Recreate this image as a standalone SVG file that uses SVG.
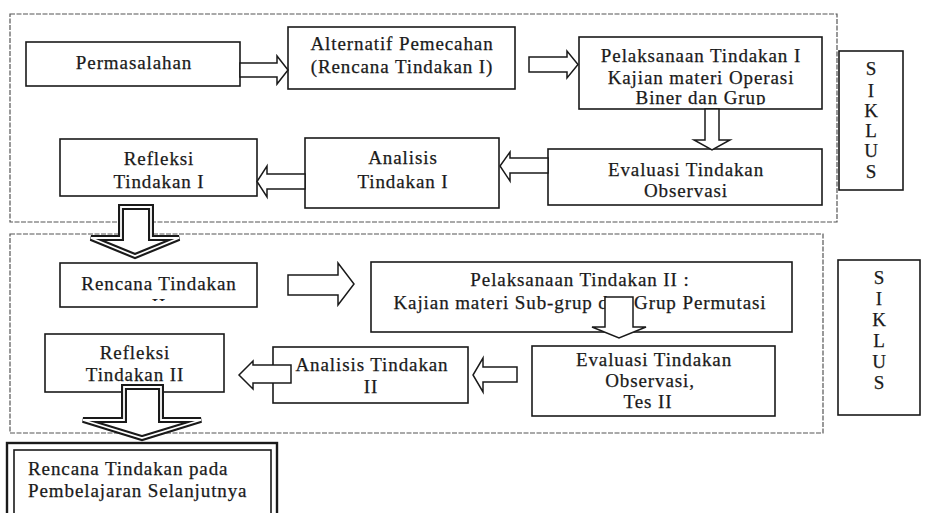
<svg xmlns="http://www.w3.org/2000/svg" width="933" height="513" viewBox="0 0 933 513">
<defs>
<style>
.box{fill:#fff;stroke:#1a1a1a;stroke-width:1.6}
.frame{fill:none;stroke:#555;stroke-width:1.2;stroke-dasharray:5 1.5}
.t{font-family:"Liberation Serif","Times New Roman",serif;font-size:19px;fill:#1a1a1a;stroke:#1a1a1a;stroke-width:0.25;letter-spacing:0.9px;text-anchor:middle}
.s{font-family:"Liberation Serif","Times New Roman",serif;font-size:19px;fill:#1a1a1a;stroke:#1a1a1a;stroke-width:0.25;text-anchor:middle}
.l{text-anchor:start}
.arr{fill:#fff;stroke:#1a1a1a;stroke-width:1.5}
.big{fill:#fff;stroke:#1a1a1a;stroke-width:6;stroke-linejoin:miter}
.bigin{fill:none;stroke:#fff;stroke-width:1.8;stroke-linejoin:miter}
</style>
<clipPath id="cpGrup"><rect x="579" y="37" width="243" height="68"/></clipPath>
<clipPath id="cpR2"><rect x="60" y="263" width="197" height="38"/></clipPath>
</defs>
<rect width="933" height="513" fill="#fff"/>
<g id="frames">
<rect class="frame" x="10" y="14" width="827" height="208"/>
<rect class="frame" x="10" y="234" width="813" height="199"/>
</g>
<g id="permasalahan"><rect class="box" x="26" y="42" width="214" height="44"/><text class="t" x="134" y="69">Permasalahan</text></g>
<g id="alternatif"><rect class="box" x="288" y="27" width="227" height="62"/><text class="t" x="402" y="50">Alternatif Pemecahan</text><text class="t" x="402" y="73">(Rencana Tindakan I)</text></g>
<g id="pelaksanaan1"><rect class="box" x="579" y="37" width="243" height="72"/><text class="t" x="701" y="62">Pelaksanaan Tindakan I</text><text class="t" x="701" y="84">Kajian materi Operasi</text><text class="t" x="701" y="104" clip-path="url(#cpGrup)">Biner dan Grup</text></g>
<g id="evaluasi1"><rect class="box" x="548" y="149" width="274" height="56"/><text class="t" x="686" y="176">Evaluasi Tindakan</text><text class="t" x="686" y="197">Observasi</text></g>
<g id="analisis1"><rect class="box" x="305" y="138" width="194" height="70"/><text class="t" x="403" y="164">Analisis</text><text class="t" x="403" y="188">Tindakan I</text></g>
<g id="refleksi1"><rect class="box" x="60" y="139" width="197" height="57"/><text class="t" x="159" y="165">Refleksi</text><text class="t" x="159" y="188">Tindakan I</text></g>
<g id="siklus1"><rect class="box" x="839" y="51" width="64" height="139"/><text class="s" x="871" y="75">S</text><text class="s" x="871" y="97">I</text><text class="s" x="871" y="117">K</text><text class="s" x="871" y="137">L</text><text class="s" x="871" y="157">U</text><text class="s" x="871" y="178">S</text></g>
<g id="rencana2"><rect class="box" x="60" y="263" width="197" height="44"/><text class="t" x="159" y="290">Rencana Tindakan</text><text class="t" x="159" y="312" clip-path="url(#cpR2)">II</text></g>
<g id="pelaksanaan2"><rect class="box" x="371" y="262" width="421" height="70"/><text class="t" x="580" y="286">Pelaksanaan Tindakan II :</text><text class="t" x="580" y="309">Kajian materi Sub-grup dan Grup Permutasi</text></g>
<g id="evaluasi2"><rect class="box" x="532" y="346" width="243" height="70"/><text class="t" x="654" y="366">Evaluasi Tindakan</text><text class="t" x="650" y="387">Observasi,</text><text class="t" x="648" y="408">Tes II</text></g>
<g id="analisis2"><rect class="box" x="273" y="347" width="195" height="56"/><text class="t" x="372" y="371">Analisis Tindakan</text><text class="t" x="371" y="393">II</text></g>
<g id="refleksi2"><rect class="box" x="45" y="334" width="179" height="58"/><text class="t" x="135" y="359">Refleksi</text><text class="t" x="135" y="381">Tindakan II</text></g>
<g id="siklus2"><rect class="box" x="838" y="260" width="82" height="155"/><text class="s" x="879" y="284">S</text><text class="s" x="879" y="305">I</text><text class="s" x="879" y="326">K</text><text class="s" x="879" y="347">L</text><text class="s" x="879" y="368">U</text><text class="s" x="879" y="389">S</text></g>
<g id="rencana-lanjut"><rect x="7" y="443" width="270" height="90" fill="#fff" stroke="#1a1a1a" stroke-width="2.4"/><rect x="14" y="450" width="257" height="80" fill="none" stroke="#1a1a1a" stroke-width="1.6"/><text class="t l" x="28" y="475">Rencana Tindakan pada</text><text class="t l" x="28" y="497">Pembelajaran Selanjutnya</text></g>
<g id="connectors">
<polygon class="arr" points="240,63 277,63 277,56 288,70 277,84 277,77 240,77"/>
<polygon class="arr" points="529,57 567,57 567,51 578,64.5 567,78 567,72 529,72"/>
<polygon class="arr" points="705,109 719,109 719,140 730,140 712,150 694,140 705,140"/>
<polygon class="arr" points="548,158 510,158 510,152 500,166 510,181 510,173 548,173"/>
<polygon class="arr" points="305,174 267,174 267,166 257,181.5 267,197 267,189 305,189"/>
<polygon class="big" points="121,207 151,207 151,238 179,238 135,256 91,238 121,238"/>
<polygon class="bigin" points="121,207 151,207 151,238 179,238 135,256 91,238 121,238"/>
<polygon class="arr" points="288,275 338,275 338,263 354,284 338,305 338,295 288,295"/>
<polygon class="arr" points="605,297 633,297 633,327 646,327 619,338 592,327 605,327"/>
<polygon class="arr" points="517,367 483,367 483,358 473,375 483,392 483,382 517,382"/>
<polygon class="arr" points="291,365 253,365 253,361 239,375 253,389 253,383 291,383"/>
<polygon class="big" points="124,387 161,387 161,420 201,420 142,438 83,420 124,420"/>
<polygon class="bigin" points="124,387 161,387 161,420 201,420 142,438 83,420 124,420"/>
</g>
</svg>
